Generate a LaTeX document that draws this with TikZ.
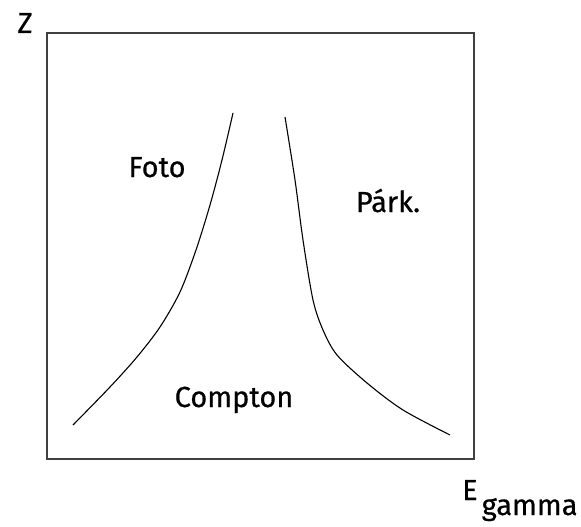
\documentclass[tikz,border=0pt]{standalone}
\usepackage{fontspec}
\setmainfont{Fira Sans}[FakeBold=0.6]
\begin{document}
\begin{tikzpicture}[x=1pt,y=-1pt,
  frame/.style={draw=black!75,line width=1.8pt},
  curve/.style={draw=black,line width=1.1pt},
  lbl/.style={font=\fontsize{29}{31}\selectfont,inner sep=0pt,anchor=base}]
\useasboundingbox (0,0) rectangle (581,527);
\node[frame,minimum width=427pt,minimum height=426pt,inner sep=0pt,anchor=north west] (box) at (46,32) {};
\node[lbl] (z) at (25,33) {Z};
\node[lbl,anchor=base west] (e) at (462,500) {E\hspace{4pt}\raisebox{-15pt}{gamma}};
\node[lbl] (foto) at (157,177) {Foto};
\node[lbl] (park) at (388,212) {Párk.};
\node[lbl] (compton) at (234,407) {Compton};
\draw[curve] plot[smooth,tension=0.5] coordinates {(233,113) (222,160) (210,205) (196,250) (180,292) (160,327) (137,357) (110,387) (73,425)};
\draw[curve] plot[smooth,tension=0.5] coordinates {(285,117) (295,180) (303,240) (313,300) (323,330) (337,355) (367,383) (403,410) (450,435)};
\end{tikzpicture}
\end{document}
